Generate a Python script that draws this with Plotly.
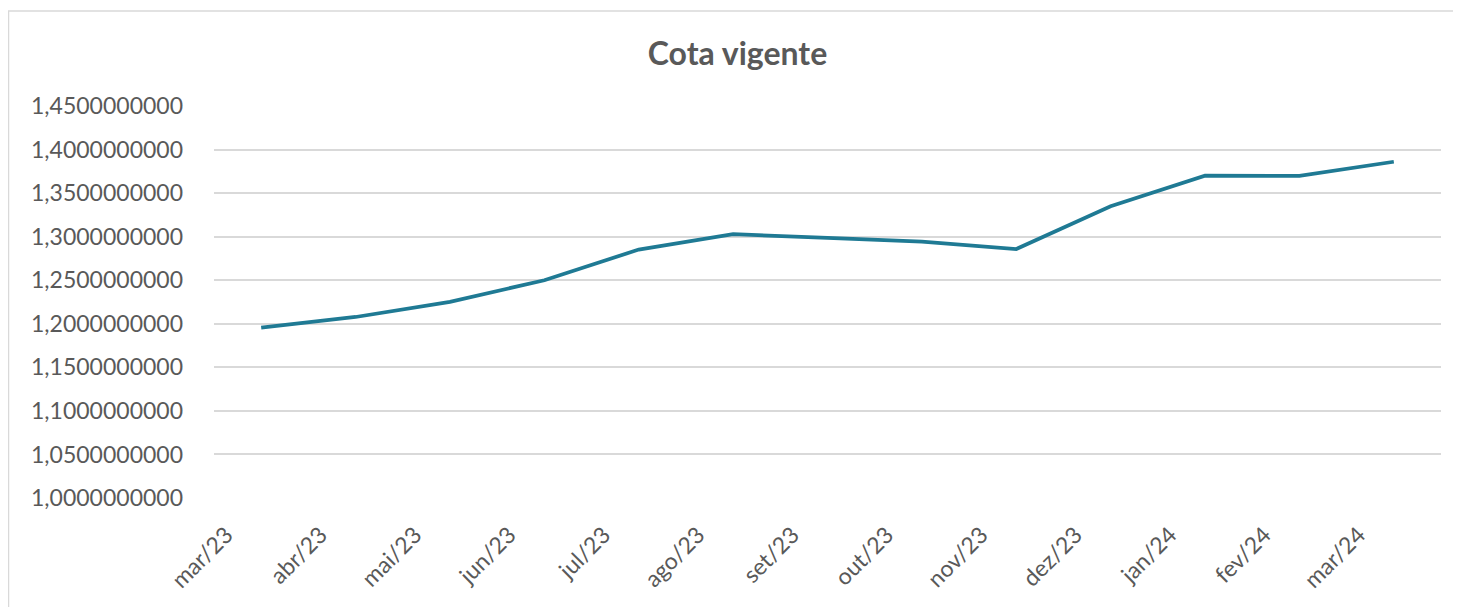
import plotly.graph_objects as go

months = ["mar/23", "abr/23", "mai/23", "jun/23", "jul/23", "ago/23", "set/23",
          "out/23", "nov/23", "dez/23", "jan/24", "fev/24", "mar/24"]
cota = [1.1957, 1.2078, 1.2252, 1.2500, 1.2852, 1.3028, 1.2985,
        1.2944, 1.2858, 1.3350, 1.3700, 1.3698, 1.3860]
y_ticks = [1.00, 1.05, 1.10, 1.15, 1.20, 1.25, 1.30, 1.35, 1.40, 1.45]
y_tick_text = ["1,0000000000", "1,0500000000", "1,1000000000", "1,1500000000",
               "1,2000000000", "1,2500000000", "1,3000000000", "1,3500000000",
               "1,4000000000", "1,4500000000"]

# page has an 8px body margin
W, H = 1453, 599
L, T = 206, 98
R = W - 1433
B = H - 490
pw, ph = W - L - R, H - T - B


def px_x(v):
    return (v - L) / pw


def px_y(v):
    return (ph - (v - T)) / ph


fig = go.Figure()
fig.add_trace(go.Scatter(
    x=months, y=cota, mode="lines",
    line=dict(color="#1F7A94", width=3.75),
    hoverinfo="x+y", showlegend=False,
))

font_family = "Lato, 'Open Sans', sans-serif"
border = dict(color="#D9D9D9", width=1.5)
fig.update_layout(
    width=W, height=H,
    paper_bgcolor="white", plot_bgcolor="white",
    margin=dict(l=L, r=R, t=T, b=B, autoexpand=False),
    title=dict(text="<b>Cota vigente</b>", x=729.5 / W, xanchor="center",
               y=1 - 46 / H, yanchor="middle",
               font=dict(family=font_family, size=32, color="#595959")),
    font=dict(family=font_family, color="#595959"),
    xaxis=dict(
        type="category", range=[-0.5, 12.5], automargin=False,
        tickangle=-45, tickfont=dict(size=23, color="#595959"),
        showgrid=False, showline=False, zeroline=False, ticks="",
        ticklen=0, ticklabelshift=-35, ticklabelstandoff=18,
    ),
    yaxis=dict(
        range=[1.0, 1.45], tickvals=y_ticks, ticktext=y_tick_text,
        automargin=False,
        tickfont=dict(size=23, color="#595959"),
        showgrid=True, gridcolor="#D9D9D9", gridwidth=1.5,
        zeroline=False, showline=False, ticks="", ticklabelstandoff=30,
    ),
    shapes=[
        dict(type="line", xref="paper", yref="paper",
             x0=px_x(0), x1=px_x(W + 40), y0=px_y(3), y1=px_y(3),
             line=border, layer="below"),
        dict(type="line", xref="paper", yref="paper",
             x0=px_x(0.5), x1=px_x(0.5), y0=px_y(3), y1=px_y(H + 40),
             line=border, layer="below"),
    ],
)

fig.write_html("out.html")
